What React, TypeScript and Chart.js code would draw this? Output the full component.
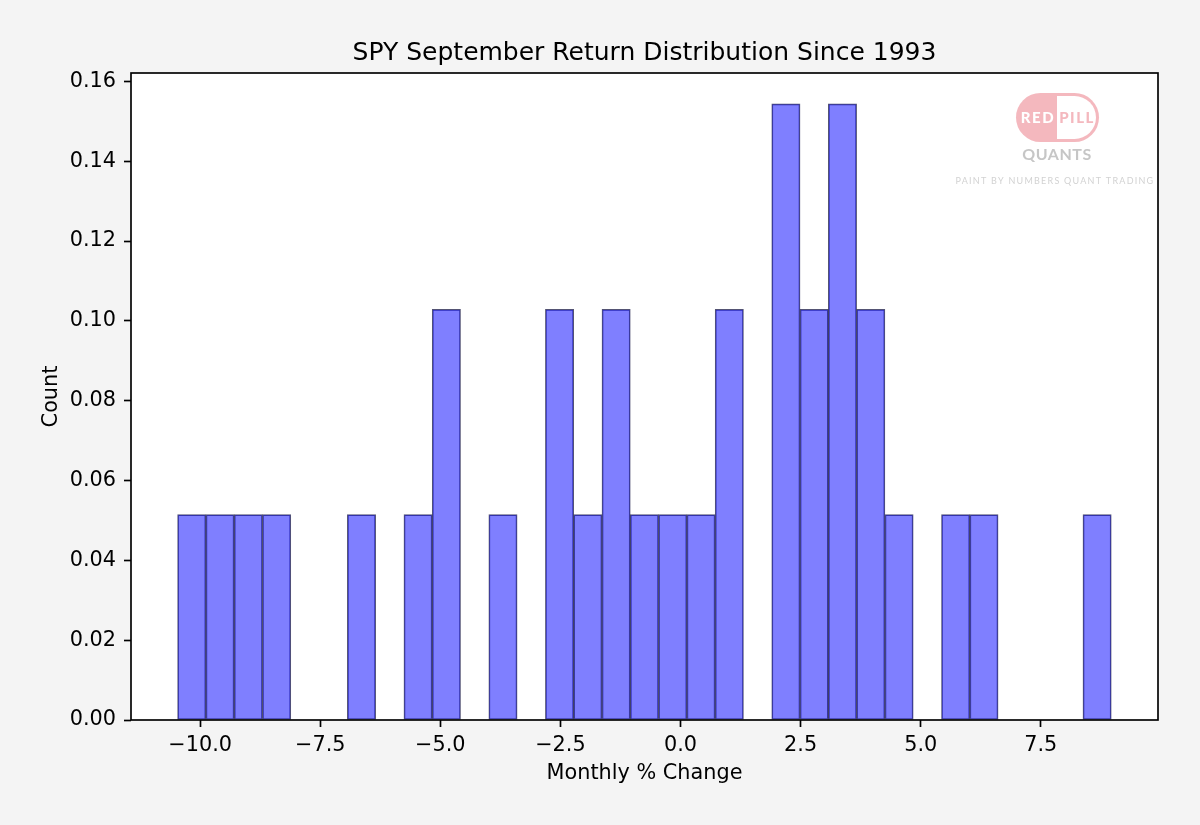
import { useEffect, useRef } from "react"
import { Chart, registerables } from "chart.js"

Chart.register(...registerables)

// Histogram of SPY September returns (density), 33 bins
const sampleCount = 33
const binStart = -10.47
const binWidth = 0.589
const binCounts = [1, 1, 1, 1, 0, 0, 1, 0, 1, 2, 0, 1, 0, 2, 1, 2, 1, 1, 1, 2, 0, 3, 2, 3, 2, 1, 0, 1, 1, 0, 0, 0, 1]
const xTicks = [-10, -7.5, -5, -2.5, 0, 2.5, 5, 7.5]
const yTicks = [0, 0.02, 0.04, 0.06, 0.08, 0.1, 0.12, 0.14, 0.16]
const xRange = [-11.44, 9.94]
const yRange = [0, 0.1621]

const FONT = "'DejaVu Sans', sans-serif"
const BG = "#f4f4f4"

const framePlugin = {
  id: "frame",
  beforeDraw(chart: any) {
    const { ctx, chartArea: a } = chart
    ctx.save()
    ctx.fillStyle = BG
    ctx.fillRect(0, 0, chart.width, chart.height)
    ctx.fillStyle = "#fff"
    ctx.fillRect(a.left, a.top, a.right - a.left, a.bottom - a.top)
    ctx.restore()
  },
  afterDraw(chart: any) {
    const { ctx, chartArea: a } = chart
    ctx.save()
    ctx.strokeStyle = "#000"
    ctx.lineWidth = 1.67
    ctx.strokeRect(a.left, a.top, a.right - a.left, a.bottom - a.top)
    // title
    ctx.fillStyle = "#000"
    ctx.font = `25px ${FONT}`
    ctx.textAlign = "center"
    ctx.textBaseline = "alphabetic"
    ctx.fillText("SPY September Return Distribution Since 1993", (a.left + a.right) / 2, 60)
    ctx.restore()
  },
}

const watermarkPlugin = {
  id: "watermark",
  afterDatasetsDraw(chart: any) {
    const ctx = chart.ctx
    const x0 = 1016, x1 = 1099, y0 = 93, y1 = 142, mid = 1057
    const r = (y1 - y0) / 2
    const pink = "#f4b8be"
    ctx.save()
    ctx.beginPath()
    ctx.roundRect(x0, y0, x1 - x0, y1 - y0, r)
    ctx.fillStyle = pink
    ctx.fill()
    ctx.save()
    ctx.beginPath()
    ctx.roundRect(x0 + 3, y0 + 3, x1 - x0 - 6, y1 - y0 - 6, r - 3)
    ctx.clip()
    ctx.fillStyle = "#fff"
    ctx.fillRect(mid, y0, x1 - mid, y1 - y0)
    ctx.restore()

    ctx.textAlign = "center"
    ctx.textBaseline = "middle"
    ctx.font = `900 15px Lato, sans-serif`
    ;(ctx as any).letterSpacing = "1.5px"
    ctx.fillStyle = "#fff"
    ctx.fillText("RED", 1038, 118)
    ctx.fillStyle = pink
    ctx.fillText("PILL", 1077, 118)

    ctx.font = `bold 16px Lato, sans-serif`
    ;(ctx as any).letterSpacing = "0.5px"
    ctx.fillStyle = "#c6c6c6"
    ctx.fillText("QUANTS", 1057, 155)

    ctx.font = `9px Lato, sans-serif`
    ;(ctx as any).letterSpacing = "1.25px"
    ctx.fillStyle = "#d2d2d2"
    ctx.fillText("PAINT BY NUMBERS QUANT TRADING", 1055, 181)
    ctx.restore()
  },
}

const fmtMinus = (s: string) => s.replace("-", "\u2212")

export default function App() {
  const chartRef = useRef<HTMLCanvasElement>(null)
  const chartInstance = useRef<Chart | null>(null)

  useEffect(() => {
    document.body.style.margin = "0"
    document.body.style.background = BG
    if (!chartRef.current) return
    if (chartInstance.current) chartInstance.current.destroy()
    const ctx = chartRef.current.getContext("2d")
    if (!ctx) return

    Chart.defaults.font.family = FONT
    Chart.defaults.color = "#000"

    const points = binCounts.map((c, i) => ({
      x: binStart + (i + 0.5) * binWidth,
      y: c / (sampleCount * binWidth),
    }))

    chartInstance.current = new Chart(ctx, {
      type: "bar",
      data: {
        datasets: [
          {
            label: "Density",
            data: points as any,
            backgroundColor: "rgba(0, 0, 255, 0.5)",
            borderColor: "rgba(25, 25, 70, 0.75)",
            borderWidth: 1,
            borderSkipped: false,
            barPercentage: 1,
            categoryPercentage: 1,
          },
        ],
      },
      options: {
        animation: false,
        responsive: true,
        maintainAspectRatio: false,
        layout: { padding: { top: 73, right: 42, bottom: 0, left: 0 } },
        plugins: {
          legend: { display: false },
          tooltip: { enabled: false },
        },
        scales: {
          x: {
            type: "linear",
            min: xRange[0],
            max: xRange[1],
            offset: false,
            afterBuildTicks: (scale: any) => {
              scale.ticks = xTicks.map((v) => ({ value: v }))
            },
            afterFit: (scale: any) => {
              scale.height = 105
            },
            ticks: {
              font: { size: 20.8 },
              padding: 6.5,
              maxRotation: 0,
              autoSkip: false,
              callback: (v: any) => fmtMinus(Number(v).toFixed(1)),
            },
            grid: {
              offset: false,
              drawOnChartArea: false,
              tickLength: 7,
              tickWidth: 1.67,
              tickColor: "#000",
            },
            border: { display: false },
            title: {
              display: true,
              text: "Monthly % Change",
              font: { size: 20.8 },
              padding: { top: 0, bottom: 39 },
            },
          },
          y: {
            type: "linear",
            min: yRange[0],
            max: yRange[1],
            afterBuildTicks: (scale: any) => {
              scale.ticks = yTicks.map((v) => ({ value: v }))
            },
            afterFit: (scale: any) => {
              scale.width = 131
            },
            ticks: {
              font: { size: 20.8 },
              padding: 8,
              callback: (v: any) => Number(v).toFixed(2),
            },
            grid: {
              drawOnChartArea: false,
              tickLength: 7,
              tickWidth: 1.67,
              tickColor: "#000",
            },
            border: { display: false },
            title: {
              display: true,
              text: "Count",
              font: { size: 20.8 },
              padding: { top: 39.5, bottom: 0 },
            },
          },
        },
      },
      plugins: [framePlugin, watermarkPlugin],
    })

    return () => {
      if (chartInstance.current) {
        chartInstance.current.destroy()
        chartInstance.current = null
      }
    }
  }, [])

  return (
    <div style={{ width: 1200, height: 825, position: "relative" }}>
      <canvas ref={chartRef} />
    </div>
  )
}
